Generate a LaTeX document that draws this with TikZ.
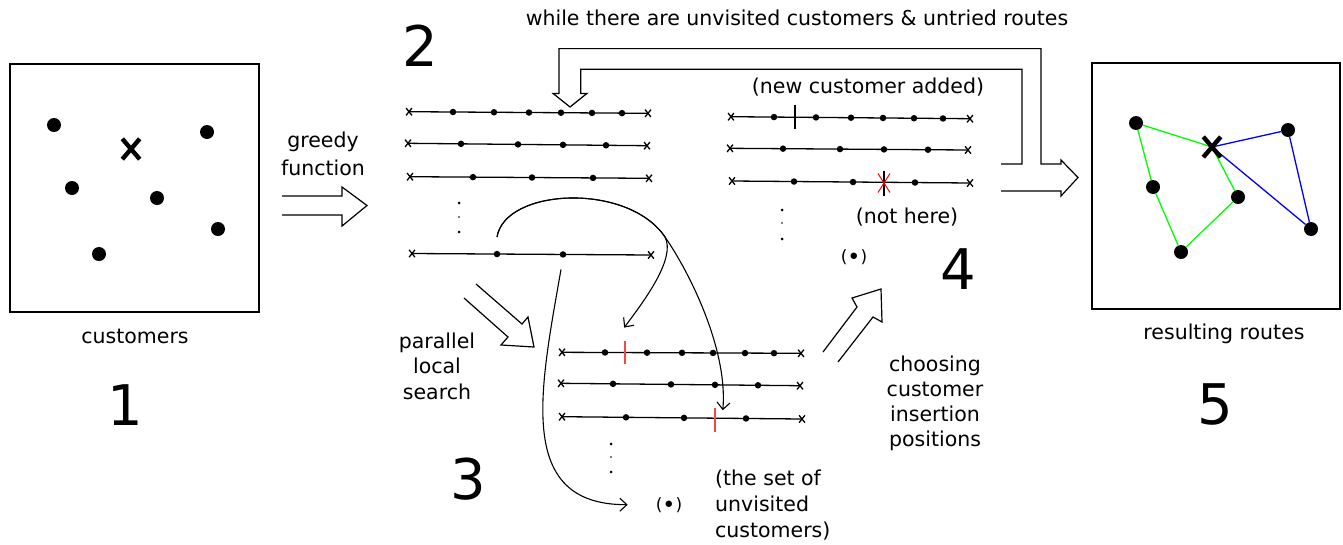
\documentclass[tikz,border=0pt]{standalone}
\usepackage{fontspec}
\setmainfont{DejaVu Sans}
\usetikzlibrary{calc,arrows.meta,shapes.misc}

% one customer route: name, start x/y, end x/y, list of customer x positions
\newcommand\routeline[6]{%
  \coordinate (#1-s) at (#2,#3);
  \coordinate (#1-e) at (#4,#5);
  \draw[routeln] (#1-s) -- (#1-e);
  \node[endx] (#1-sx) at (#1-s) {};
  \node[endx] (#1-ex) at (#1-e) {};
  \foreach \d [count=\k] in {#6} {
    \node[stop] (#1-\k) at ($(#1-s)!{(\d-#2)/(#4-#2)}!(#1-e)$) {};
  }%
}

\tikzset{
  frame/.style={draw, line width=1.2pt},
  routeln/.style={line width=1.3pt},
  endx/.style={cross out, draw, line width=1.3pt, minimum width=4.5pt, minimum height=6pt, inner sep=0pt},
  stop/.style={circle, fill, inner sep=0pt, minimum size=6.5pt},
  cust/.style={circle, fill, inner sep=0pt, minimum size=14pt},
  depot/.style={cross out, draw, line width=4.4pt, minimum width=13pt, minimum height=16pt, inner sep=0pt},
  hollow/.style={line width=1.2pt, line join=miter},
  curvy/.style={line width=1.1pt, -{Straight Barb[length=7pt,width=13pt,line width=1.1pt]}},
  lbl/.style={font=\fontsize{20.5}{25}\selectfont, inner sep=0pt, anchor=base},
  small/.style={font=\fontsize{17}{20}\selectfont, inner sep=0pt, anchor=base},
  bignum/.style={font=\fontsize{56}{60}\selectfont, inner sep=0pt, anchor=base},
  tick/.style={line width=1.3pt},
  redtick/.style={line width=1.5pt, draw=insred},
  edgeg/.style={line width=1.3pt, draw=green},
  edgeb/.style={line width=1.3pt, draw=blue},
}
\definecolor{insred}{RGB}{242,72,72}
\newcommand\bigbullet{\raisebox{-0.12em}{\scalebox{1.3}{\textbullet}}}

\begin{document}
\begin{tikzpicture}[x=1pt,y=-1pt]
\useasboundingbox (0,0) rectangle (1343,544);

% ---------- 1: customers ----------
\draw[frame] (10,64) rectangle (259,312);
\node[cust] (c1) at (54,125) {};
\node[cust] (c2) at (207,132) {};
\node[cust] (c3) at (72,188) {};
\node[cust] (c4) at (157,198) {};
\node[cust] (c5) at (218,229) {};
\node[cust] (c6) at (99,254) {};
\node[depot] (d1) at (131,149) {};
\node[lbl] (tcust) at (135,343) {customers};
\node[bignum] (n1) at (125,425) {1};

% greedy function arrow
\node[lbl] (tg1) at (323,147) {greedy};
\node[lbl] (tg2) at (323,175) {function};
\draw[hollow] (282,196) -- (342,196) -- (342,187) -- (367,205.5) -- (342,226) -- (342,215) -- (282,215);

% ---------- 2: greedy routes ----------
\node[bignum] (n2) at (420,66) {2};
\routeline{a1}{409}{111.7}{648}{113.3}{453,494,529,561,592,622}
\routeline{a2}{408}{143.3}{647}{145.7}{461,518,563,606}
\routeline{a3}{410}{176.7}{649}{178.3}{473,532,593}
\routeline{a4}{412}{253.5}{651}{255}{497,563}
\fill (459,203) circle (1.5pt) (459,217) circle (0.9pt) (459,232) circle (1.5pt);

% loop arrow back to the routes and on to the result
\draw[hollow] (1001,191) -- (1061,191) -- (1061,196) -- (1078,177.5) -- (1061,160)
  -- (1061,164) -- (1041,164) -- (1041,48.6) -- (559,48.6) -- (559,93.4)
  -- (553,93.4) -- (570,107) -- (587,93.4) -- (580.7,93.4) -- (580.7,69.3)
  -- (1022,69.3) -- (1022,164) -- (1001,164);
\node[lbl] (twhile) at (797,25) {while there are unvisited customers \& untried routes};

% ---------- 3: parallel local search ----------
\node[lbl] (tp1) at (437,348) {parallel};
\node[lbl] (tp2) at (437,373.5) {local};
\node[lbl] (tp3) at (437,399) {search};
\draw[hollow] (476,284) -- (522,324) -- (528,317) -- (534,347) -- (501,345) -- (508,337) -- (464,298);

\routeline{b1}{562}{352.3}{801}{353.3}{605,647,682,713,745,774}
\routeline{b2}{561}{383.3}{800}{385.7}{613,671,715,758}
\routeline{b3}{562}{416.7}{802}{419}{626,684,746}
\fill (611,444) circle (1.5pt) (611,457) circle (0.9pt) (611,472) circle (1.5pt);
\draw[redtick] (625,341) -- (625,364);
\draw[redtick] (715,408) -- (715,432);
\node[bignum] (n3) at (468,499) {3};

\coordinate (p2) at ($(a4-1)+(0,-17)$);
\coordinate (p3) at ($(a4-2)+(-2,15)$);
\node[small] (unv3) at (669,510) {(\bigbullet)};
\node[lbl, anchor=base west] (ts1) at (715,485) {(the set of};
\node[lbl, anchor=base west] (ts2) at (715,511) {unvisited};
\node[lbl, anchor=base west] (ts3) at (715,537) {customers)};

\draw[curvy] (p2) .. controls (505,188) and (628,182) .. (665,237)
  .. controls (676,258) and (645,300) .. ($(b1-s)!0.26!(b1-e)+(0,-25)$);
\draw[curvy] (p2) .. controls (505,188) and (628,182) .. (665,237)
  .. controls (690,273) and (728,350) .. ($(b3-s)!0.67!(b3-e)+(0,-8)$);
\draw[curvy] (p3) .. controls (540,390) and (515,505) .. ($(unv3.west)+(-28,0)$);

% choosing arrow
\draw[hollow] (823,352) -- (857,307) -- (852,298) -- (881,289) -- (882,322) -- (873,317) -- (838,362);
\node[lbl] (tc1) at (935,371) {choosing};
\node[lbl] (tc2) at (935,396) {customer};
\node[lbl] (tc3) at (935,421) {insertion};
\node[lbl] (tc4) at (935,446) {positions};

% ---------- 4: insertion ----------
\node[lbl] (tnew) at (868,93) {(new customer added)};
\routeline{e1}{731}{116.7}{970}{118.7}{774,816,851,883,914,943}
\routeline{e2}{730}{148.3}{968}{150}{783,840,884,928}
\routeline{e3}{732}{181}{970}{183}{794,853,915}
\draw[tick] (795,105) -- (795,129);
\draw[tick] (884,171) -- (884,196);
\draw[red, line width=1pt] (878,173.5) -- (890,192.5) (878,192.5) -- (890,173.5);
\fill (782,210) circle (1.5pt) (782,223) circle (0.9pt) (782,239) circle (1.5pt);
\node[lbl] (tnot) at (907,223) {(not here)};
\node[small] (unv4) at (854,262) {(\bigbullet)};
\node[bignum] (n4) at (958,289) {4};

% ---------- 5: resulting routes ----------
\draw[frame] (1092,63) rectangle (1340,309);
\node[cust] (r1) at (1136,123) {};
\node[cust] (r2) at (1288,130) {};
\node[cust] (r3) at (1153,187) {};
\node[cust] (r4) at (1238,197) {};
\node[cust] (r5) at (1311,229) {};
\node[cust] (r6) at (1181,252) {};
\draw[edgeg] (r1) -- (1212,147);
\draw[edgeg] (r1) -- (r3) -- (r6) -- (r4) -- (1212,147);
\draw[edgeb] (1212,147) -- (r2) -- (r5) -- (1212,147);
\node[depot] (d5) at (1212,147) {};
\node[lbl] (tres) at (1224,339) {resulting routes};
\node[bignum] (n5) at (1215,424) {5};
\end{tikzpicture}
\end{document}
